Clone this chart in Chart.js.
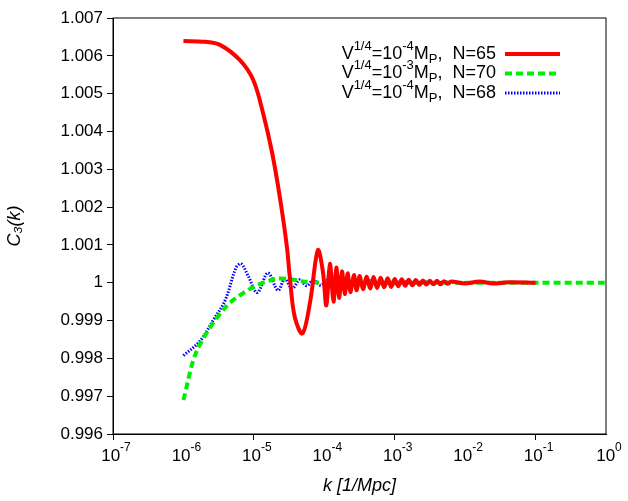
<!DOCTYPE html>
<html>
<head>
<meta charset="utf-8">
<script src="https://cdn.jsdelivr.net/npm/chart.js@4.4.1/dist/chart.umd.min.js"></script>
<style>
html, body { margin: 0; padding: 0; background: #fff; }
#wrap { width: 628px; height: 501px; }
</style>
</head>
<body>
<div id="wrap"><canvas id="c"></canvas></div>
<script>
(() => {
	'use strict'

	// Values
	const redK = [1e-6, 2e-6, 3.3e-6, 6.3e-6, 9.8e-6, 1.35e-5, 1.82e-5, 2.34e-5, 2.95e-5, 3.24e-5, 3.8e-5, 4.9e-5, 6.3e-5, 8.1e-5,
		9.55e-5, 1.07e-4, 1.2e-4, 1.35e-4, 1.48e-4, 1.62e-4, 1.78e-4, 1.95e-4, 2.14e-4, 2.34e-4, 2.63e-4, 2.88e-4,
		3.16e-4, 3.55e-4, 3.98e-4, 4.47e-4, 5.01e-4, 5.62e-4, 6.31e-4, 7.08e-4, 7.94e-4, 8.91e-4, 1e-3, 1.12e-3, 1.26e-3, 1.41e-3,
		1.58e-3, 1.78e-3, 2.0e-3, 2.24e-3, 2.51e-3, 2.82e-3, 3.16e-3, 3.55e-3, 3.98e-3, 4.47e-3, 5.01e-3, 5.62e-3, 6.31e-3,
		1e-2, 1.6e-2, 2.5e-2, 4e-2, 0.1];
	const redC = [1.00639, 1.00637, 1.00629, 1.00589, 1.00536, 1.00449, 1.00343, 1.00226, 1.00094, 1.00015, 0.9991, 0.99866, 0.9995, 1.00086,
		1.0003, 0.9994, 1.0005, 0.9995, 1.0004, 0.9996, 1.0003, 0.9997, 1.00025, 0.99975, 1.0002, 0.9998,
		1.00018, 0.99983, 1.00016, 0.99985, 1.00015, 0.99986, 1.00013, 0.99988, 1.00012, 0.99989, 1.0001, 0.99991, 1.00009, 0.99992,
		1.00008, 0.99993, 1.00007, 0.99994, 1.00006, 0.99995, 1.00005, 0.99996, 1.00005, 0.99996, 1.00004, 0.99997, 1.00003,
		0.99998, 1.00003, 0.99998, 1.00001, 1.0];

	const greenK = [1e-6, 1.55e-6, 3.9e-6, 8.9e-6, 2e-5, 3.2e-5, 5e-5, 1e-4, 1e-3, 1e-2, 0.1, 1];
	const greenC = [0.9969, 0.9982, 0.99934, 0.99984, 1.0001, 1.0001, 1.00003, 1.0, 1.0, 1.0, 1.0, 1.0];

	const blueK = [1e-6, 1.74e-6, 2.63e-6, 3.9e-6, 5.6e-6, 6.6e-6, 8.3e-6, 1.12e-5, 1.58e-5, 2.2e-5, 2.75e-5, 3.5e-5,
		4.5e-5, 5.6e-5, 7e-5, 8.9e-5, 1.12e-4, 1.41e-4, 1.78e-4, 2.24e-4, 2.82e-4, 3.55e-4, 4.47e-4, 5.62e-4, 7.08e-4,
		8.91e-4, 1.26e-3, 1.78e-3, 2.51e-3, 3.55e-3, 5e-3, 1e-2, 0.1];
	const blueC = [0.99807, 0.99847, 0.999, 0.99953, 1.0004, 1.0005, 1.00018, 0.99974, 1.00026, 0.9998, 1.0001, 0.99985,
		1.00008, 0.99992, 1.00007, 0.99993, 1.00007, 0.99994, 1.00006, 0.99994, 1.00006, 0.99995, 1.00005, 0.99995, 1.00004,
		0.99996, 1.00004, 0.99997, 1.00003, 0.99998, 1.00002, 1.0, 1.0];

	const xTicks = [1e-7, 1e-6, 1e-5, 1e-4, 1e-3, 1e-2, 1e-1, 1];
	const xTickExps = ['-7', '-6', '-5', '-4', '-3', '-2', '-1', '0'];
	const legendRows = [
		{ exp: '-4', n: '65', color: '#ff0000', dash: [], width: 4 },
		{ exp: '-3', n: '70', color: '#00ee00', dash: [7, 4], width: 4 },
		{ exp: '-4', n: '68', color: '#0000ff', dash: [1.5, 1.5], width: 3 }
	];

	const toPoints = (ks, cs) => ks.map((k, i) => ({ x: k, y: cs[i] }));
	const font = 'Liberation Sans, Arial, sans-serif';

	// Draws a run of text pieces (base, superscript, subscript) left to right
	function drawPieces(ctx, parts, x, y) {
		parts.forEach(p => {
			ctx.font = p.s + 'px ' + font;
			ctx.fillText(p.t, x, y + p.dy);
			x += ctx.measureText(p.t).width;
		});
	}
	function piecesWidth(ctx, parts) {
		let w = 0;
		parts.forEach(p => { ctx.font = p.s + 'px ' + font; w += ctx.measureText(p.t).width; });
		return w;
	}

	// Draws the frame, x tick labels and gnuplot-style legend
	const framePlugin = {
		id: 'frame',
		afterDraw(chart) {
			const { ctx, chartArea: a } = chart;
			ctx.save();
			ctx.strokeStyle = '#000';
			ctx.lineWidth = 1;
			ctx.strokeRect(a.left, a.top, a.right - a.left, a.bottom - a.top);

			ctx.fillStyle = '#000';
			ctx.textBaseline = 'middle';
			const xs = chart.scales.x;
			xTicks.forEach((v, i) => {
				const parts = [{ t: '10', s: 17, dy: 0 }, { t: xTickExps[i], s: 12, dy: -8 }];
				const w = piecesWidth(ctx, parts);
				drawPieces(ctx, parts, xs.getPixelForValue(v) - w / 2 + 3, a.bottom + 22);
			});

			const rightText = 496;
			legendRows.forEach((r, i) => {
				const y = 54 + i * 19.5;
				const parts = [
					{ t: 'V', s: 18, dy: 0 },
					{ t: '1/4', s: 13, dy: -8 },
					{ t: '=10', s: 18, dy: 0 },
					{ t: r.exp, s: 13, dy: -8 },
					{ t: 'M', s: 18, dy: 0 },
					{ t: 'P', s: 13, dy: 5 },
					{ t: ',  N=' + r.n, s: 18, dy: 0 }
				];
				ctx.fillStyle = '#000';
				drawPieces(ctx, parts, rightText - piecesWidth(ctx, parts), y);
				ctx.beginPath();
				ctx.strokeStyle = r.color;
				ctx.lineWidth = r.width;
				ctx.setLineDash(r.dash);
				ctx.moveTo(505, y);
				ctx.lineTo(560, y);
				ctx.stroke();
				ctx.setLineDash([]);
			});
			ctx.restore();
		}
	};

	new Chart(document.getElementById('c'), {
		type: 'scatter',
		data: {
			datasets: [
				{ data: toPoints(redK, redC), borderColor: '#ff0000', borderWidth: 4, showLine: true, pointRadius: 0, tension: 0.35 },
				{ data: toPoints(greenK, greenC), borderColor: '#00ee00', borderWidth: 4, borderDash: [7, 4], showLine: true, pointRadius: 0, tension: 0.3 },
				{ data: toPoints(blueK, blueC), borderColor: '#0000ff', borderWidth: 3, borderDash: [1.5, 1.5], showLine: true, pointRadius: 0, tension: 0.35 }
			]
		},
		options: {
			responsive: true,
			maintainAspectRatio: false,
			animation: false,
			layout: { padding: { top: 18, right: 22, left: 0, bottom: 0 } },
			plugins: { legend: { display: false }, tooltip: { enabled: false } },
			scales: {
				x: {
					type: 'logarithmic',
					min: 1e-7,
					max: 1,
					afterBuildTicks: s => { s.ticks = xTicks.map(v => ({ value: v })); },
					afterFit: s => { s.height = 67; },
					ticks: { display: true, color: 'rgba(0,0,0,0)', font: { family: font, size: 17 }, maxRotation: 0, padding: 2 },
					grid: { drawOnChartArea: false, color: '#000', tickLength: 6 },
					border: { color: '#000' },
					title: { display: true, text: 'k [1/Mpc]', color: '#000', font: { family: font, size: 18, style: 'italic' }, padding: { top: 4 } }
				},
				y: {
					min: 0.996,
					max: 1.007,
					afterFit: s => { s.width = 113; },
					ticks: {
						stepSize: 0.001,
						color: '#000',
						font: { family: font, size: 17 },
						padding: 4,
						callback: v => (Math.abs(v - 1) < 1e-9 ? '1' : v.toFixed(3))
					},
					grid: { drawOnChartArea: false, color: '#000', tickLength: 6 },
					border: { color: '#000' },
					title: { display: true, text: 'C₃(k)', color: '#000', font: { family: font, size: 18, style: 'italic' }, padding: { bottom: 4 } }
				}
			}
		},
		plugins: [framePlugin]
	});
})()
</script>
</body>
</html>
